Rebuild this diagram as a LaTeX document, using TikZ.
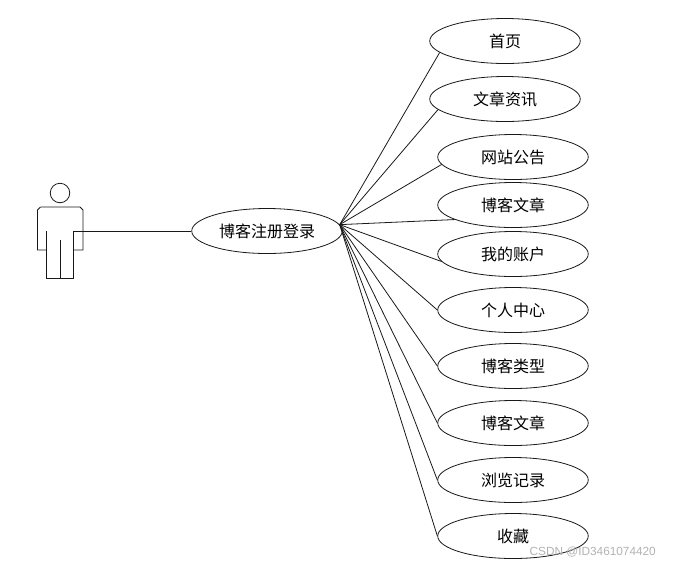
\documentclass[tikz,border=0pt]{standalone}
\usepackage{fontspec}
\newfontfamily\cjk{Noto Sans CJK SC}
\newfontfamily\wmfont{Liberation Sans}
\usetikzlibrary{shapes.geometric}

\begin{document}
\begin{tikzpicture}[
	x=1pt,y=-1pt,
	usecase/.style={
		ellipse,
		draw=black!90,
		line width=0.8pt,
		inner sep=0pt,
		minimum width=150.5pt,
		minimum height=45pt,
		font=\cjk\fontsize{16pt}{18pt}\selectfont
	},
	actorline/.style={black!90, line width=0.8pt},
	linkline/.style={black!90, line width=0.8pt},
	watermark/.style={black!30, font=\wmfont\fontsize{11.8pt}{14pt}\selectfont},
]
\useasboundingbox (0,0) rectangle (674,566);

% actor
\node[circle, draw=black!90, line width=0.8pt, minimum size=19.5pt, inner sep=0pt] (head) at (60,193) {};
\draw[actorline] (40.5,207) -- (80,207) -- (83,210) -- (83,250) -- (73.5,250);
\draw[actorline] (40.5,207) -- (37.5,210) -- (37.5,250) -- (46.5,250);
\draw[actorline] (46.5,231) -- (46.5,278) -- (73.5,278) -- (73.5,231);
\draw[actorline] (60,240) -- (60,278);
\coordinate (hand) at (73.5,231);

% register / login
\node[usecase] (login) at (267,231) {博客注册登录};
\coordinate (hub) at (login.5);
\draw[linkline] (hand) -- (login);

% use cases on the right
\foreach \i/\px/\py/\ang/\txt in {
	1/505/41/190/首页,
	2/505/99/189/文章资讯,
	3/513/157/186/网站公告,
	4/513/205/194/博客文章,
	5/513/254/186/我的账户,
	6/513/310/180/个人中心,
	7/513/366/180/博客类型,
	8/513/423/180/博客文章,
	9/513/480/180/浏览记录,
	10/513/536/180/收藏} {
	\node[usecase] (uc\i) at (\px,\py) {\txt};
	\draw[linkline] (hub) -- (uc\i.\ang);
}

% watermark
\node[watermark, anchor=east, inner sep=0pt] (mark) at (656,552) {CSDN @ID3461074420};

\end{tikzpicture}
\end{document}
